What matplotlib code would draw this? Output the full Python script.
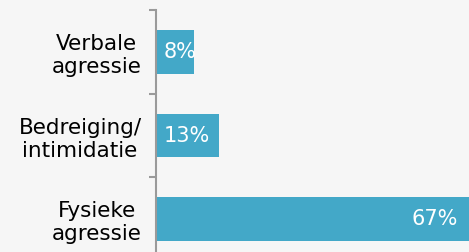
import matplotlib.pyplot as plt

categories = ["Verbale\nagressie", "Bedreiging/\nintimidatie", "Fysieke\nagressie"]
values = [8, 13, 67]
labels = ["8%", "13%", "67%"]

bar_color = "#43a8c8"
bg = "#f6f6f6"

fig = plt.figure(figsize=(4.69, 2.52), dpi=100, facecolor=bg)
# axes runs past the bottom/right edge: the picture is a crop of a bigger chart
ax = fig.add_axes([155.5 / 469, 1 - 261 / 252, 340 / 469, 251 / 252])
ax.set_facecolor("none")

y = list(range(len(categories)))
ax.barh(y, values, height=0.52, color=bar_color)
ax.set_xlim(0, 340 / 4.85)
ax.set_ylim(2.5, -0.5)

for i, (v, t) in enumerate(zip(values, labels)):
    if v > 30:
        ax.text(v - 4.6, i, t, ha="right", va="center", color="white", fontsize=15)
    else:
        ax.text(1.6, i, t, ha="left", va="center", color="white", fontsize=15)

ax.set_yticks([-0.5, 0.5, 1.5, 2.5])
ax.set_yticklabels([])
ax.set_yticks(y, minor=True)
ax.set_yticklabels(categories, minor=True, fontsize=15.5, multialignment="center")
ax.tick_params(axis="y", which="major", length=5, width=1.5, color="#9a9a9a")
ax.tick_params(axis="y", which="minor", length=0, pad=10)
ax.set_xticks([])

for s in ["top", "right", "bottom"]:
    ax.spines[s].set_visible(False)
ax.spines["left"].set_color("#9a9a9a")
ax.spines["left"].set_linewidth(1.5)

# title sits above the crop, only its descenders peek in
fig.text(207 / 469, 1 + 5.5 / 252, "Type", color="#1f9bbf", fontsize=17.7,
         fontweight="bold", ha="left", va="baseline")

fig.savefig("out.png", dpi=100, facecolor=bg)
